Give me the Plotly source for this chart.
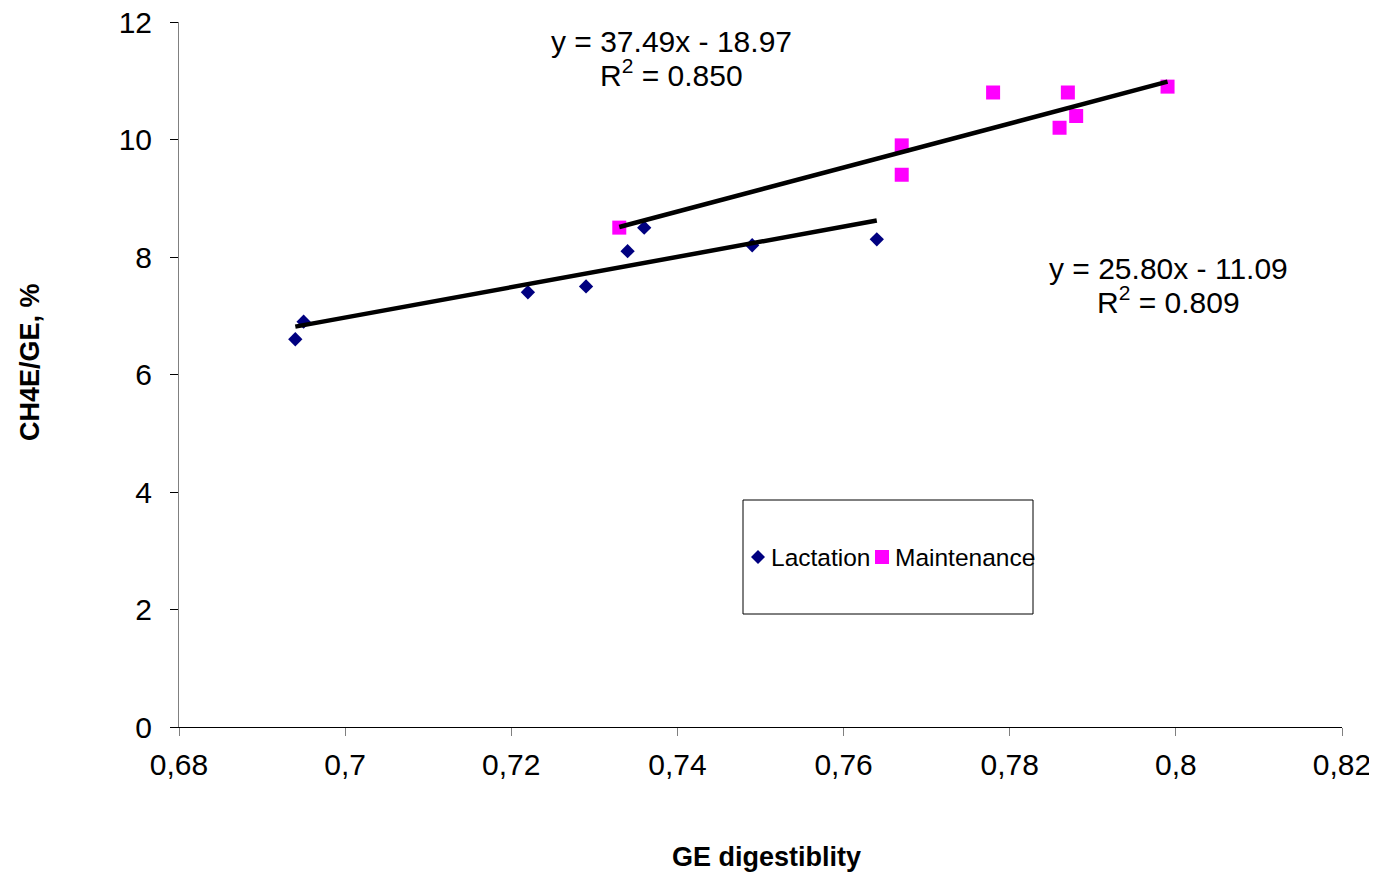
import plotly.graph_objects as go

# Data
lact_x = [0.694, 0.695, 0.722, 0.729, 0.734, 0.736, 0.749, 0.764]
lact_y = [6.6, 6.9, 7.4, 7.5, 8.1, 8.5, 8.2, 8.3]
maint_x = [0.733, 0.767, 0.767, 0.778, 0.786, 0.787, 0.788, 0.799]
maint_y = [8.5, 9.9, 9.4, 10.8, 10.2, 10.8, 10.4, 10.9]

lact_slope, lact_intercept, lact_r2 = 25.80, -11.09, 0.809
maint_slope, maint_intercept, maint_r2 = 37.49, -18.97, 0.850

x_ticks = [0.68, 0.70, 0.72, 0.74, 0.76, 0.78, 0.80, 0.82]
x_tick_labels = ["0,68", "0,7", "0,72", "0,74", "0,76", "0,78", "0,8", "0,82"]
y_ticks = [0, 2, 4, 6, 8, 10, 12]
series_names = ["Lactation", "Maintenance"]
x_title = "GE digestiblity"
y_title = "CH4E/GE, %"

FONT = "Liberation Sans, Arial, sans-serif"
NAVY = "#000080"
MAGENTA = "#FF00FF"

# page offset from default body margin
OFF = 8
# plot area geometry in page pixels
PL, PR, PT, PB = 179, 1342, 22, 727
W, H = 1369, 864
L, T = PL - OFF, PT - OFF
R = W - (PR - OFF)
B = H - (PB - OFF)
PW, PH = PR - PL, PB - PT


def trend(xs, m, b):
    xe = [min(xs), max(xs)]
    return xe, [m * v + b for v in xe]


def px_x(p):
    return (p - PL) / PW


def px_y(p):
    return (PB - p) / PH


fig = go.Figure()

fig.add_trace(go.Scatter(x=lact_x, y=lact_y, mode="markers", name=series_names[0],
                         marker=dict(symbol="diamond", size=11, color=NAVY), showlegend=False))
fig.add_trace(go.Scatter(x=maint_x, y=maint_y, mode="markers", name=series_names[1],
                         marker=dict(symbol="square", size=14, color=MAGENTA), showlegend=False))

lx, ly = trend(lact_x, lact_slope, lact_intercept)
mx, my = trend(maint_x, maint_slope, maint_intercept)
fig.add_trace(go.Scatter(x=lx, y=ly, mode="lines", line=dict(color="black", width=4.5),
                         showlegend=False, hoverinfo="skip"))
fig.add_trace(go.Scatter(x=mx, y=my, mode="lines", line=dict(color="black", width=4.5),
                         showlegend=False, hoverinfo="skip"))

# legend frame
fig.add_shape(type="rect", xref="paper", yref="paper",
              x0=px_x(743), x1=px_x(1033), y0=px_y(614), y1=px_y(500),
              line=dict(color="black", width=1), fillcolor="rgba(0,0,0,0)")
# legend symbols
cy = 557
dx, dy = 7, 7
fig.add_shape(type="path", xref="paper", yref="paper",
              path=f"M {px_x(758 - dx)},{px_y(cy)} L {px_x(758)},{px_y(cy - dy)} "
                   f"L {px_x(758 + dx)},{px_y(cy)} L {px_x(758)},{px_y(cy + dy)} Z",
              line=dict(width=0), fillcolor=NAVY)
fig.add_shape(type="rect", xref="paper", yref="paper",
              x0=px_x(875), x1=px_x(889), y0=px_y(cy + 7), y1=px_y(cy - 7),
              line=dict(width=0), fillcolor=MAGENTA)
fig.add_annotation(x=px_x(769), y=px_y(cy), xref="paper", yref="paper", showarrow=False,
                   text=series_names[0], xanchor="left", yanchor="middle",
                   font=dict(family=FONT, size=24.5, color="black"))
fig.add_annotation(x=px_x(893), y=px_y(cy), xref="paper", yref="paper", showarrow=False,
                   text=series_names[1], xanchor="left", yanchor="middle",
                   font=dict(family=FONT, size=24.5, color="black"))

# equations
eqfont = dict(family=FONT, size=30, color="black")
fig.add_annotation(x=0.7393, y=11.66, xref="x", yref="y", showarrow=False,
                   text=f"y = {maint_slope:.2f}x - {abs(maint_intercept):.2f}", font=eqfont)
fig.add_annotation(x=0.7393, y=11.14, xref="x", yref="y", showarrow=False,
                   text=f"R<sup>2</sup> = {maint_r2:.3f}", font=eqfont)
fig.add_annotation(x=0.7991, y=7.80, xref="x", yref="y", showarrow=False,
                   text=f"y = {lact_slope:.2f}x - {abs(lact_intercept):.2f}", font=eqfont)
fig.add_annotation(x=0.7991, y=7.27, xref="x", yref="y", showarrow=False,
                   text=f"R<sup>2</sup> = {lact_r2:.3f}", font=eqfont)

# axis titles
titlefont = dict(family=FONT, size=27, color="black")
fig.add_annotation(x=px_x(766), y=px_y(857), xref="paper", yref="paper", showarrow=False,
                   text=f"<b>{x_title}</b>", font=titlefont, xanchor="center", yanchor="middle")
fig.add_annotation(x=px_x(30), y=px_y(362), xref="paper", yref="paper", showarrow=False,
                   text=f"<b>{y_title}</b>", font=titlefont, textangle=-90,
                   xanchor="center", yanchor="middle")

fig.update_layout(
    width=W, height=H,
    margin=dict(l=L, r=R, t=T, b=B, autoexpand=False),
    paper_bgcolor="white", plot_bgcolor="white",
    font=dict(family=FONT, size=26, color="black"),
    showlegend=False,
)
fig.update_xaxes(range=[0.68, 0.82], tickvals=x_ticks, ticktext=x_tick_labels,
                 showgrid=False, zeroline=False, showline=True, linecolor="black", linewidth=1,
                 ticks="outside", ticklen=8, tickcolor="#808080", automargin=False,
                 ticklabeloverflow="allow",
                 tickfont=dict(family=FONT, size=30), ticklabelstandoff=3)
fig.update_yaxes(range=[0, 12], tickvals=y_ticks,
                 showgrid=False, zeroline=False, showline=True, linecolor="#808080", linewidth=1,
                 ticks="outside", ticklen=8, tickcolor="black", automargin=False,
                 ticklabeloverflow="allow",
                 tickfont=dict(family=FONT, size=30), ticklabelstandoff=12)

fig.write_html("out.html")
